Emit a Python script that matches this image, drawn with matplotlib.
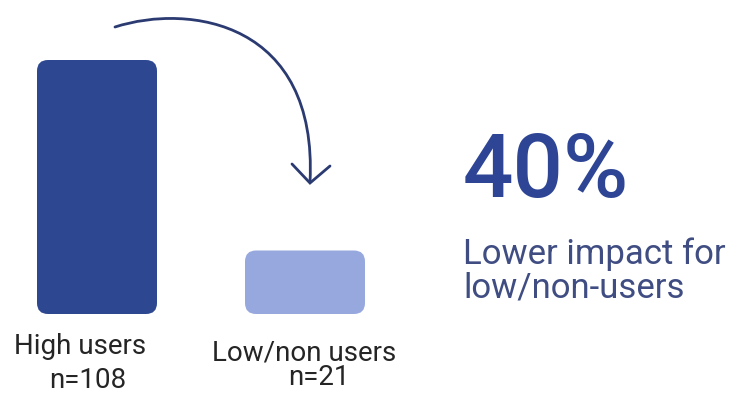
import matplotlib
matplotlib.use("Agg")
import matplotlib.pyplot as plt
from matplotlib.patches import FancyBboxPatch, PathPatch
from matplotlib.path import Path

# ---- data ----
categories = ["High users", "Low/non users"]
sample_sizes = ["n=108", "n=21"]
values = [100, 25]
bar_colors = ["#2E4791", "#97A8DE"]
headline = "40%"
subtext_lines = ["Lower impact for", "low/non-users"]

W, H = 738, 393
fig = plt.figure(figsize=(W / 100, H / 100), dpi=100)
fig.patch.set_facecolor("white")

# ---- bar axes (pixel-aligned) ----
px_per_x = 208.0     # pixels per category step
x0_px = 97.0         # center of first bar in px
bottom_px = 314.0
top_px = 60.0
ax = fig.add_axes([0, (H - bottom_px) / H, 1, (bottom_px - top_px) / H])
ax.set_xlim(-x0_px / px_per_x, (W - x0_px) / px_per_x)
ax.set_ylim(0, max(values))
ax.axis("off")
bar_w = 120.0 / px_per_x
bars = ax.bar(range(len(values)), values, width=bar_w, color=bar_colors)
px_per_y = (bottom_px - top_px) / max(values)
radius_px = 11.0
for b, c in zip(bars, bar_colors):
    b.set_visible(False)
    p = FancyBboxPatch((b.get_x(), b.get_y()), b.get_width(), b.get_height(),
                       boxstyle=f"round,pad=0,rounding_size={radius_px / px_per_x}",
                       mutation_aspect=px_per_x / px_per_y,
                       facecolor=c, edgecolor="none")
    ax.add_patch(p)

# ---- overlay axes in pixel coordinates ----
ov = fig.add_axes([0, 0, 1, 1])
ov.set_xlim(0, W)
ov.set_ylim(H, 0)
ov.axis("off")

font = "Roboto"
label_color = "#252525"
ov.text(80, 354, categories[0], fontsize=20, family=font, color=label_color,
        ha="center", va="baseline")
ov.text(88, 388, sample_sizes[0], fontsize=20, family=font, color=label_color,
        ha="center", va="baseline")
ov.text(304, 360, categories[1], fontsize=20, family=font, color=label_color,
        ha="center", va="baseline")
ov.text(319, 385, sample_sizes[1], fontsize=20, family=font, color=label_color,
        ha="center", va="baseline")

ov.text(463, 197, headline, fontsize=64, family=font, fontweight="medium",
        color="#2D4594", ha="left", va="baseline")
for i, line in enumerate(subtext_lines):
    ov.text(463, 264 + 34 * i, line, fontsize=25, family=font, color="#3F4D82",
            ha="left", va="baseline")

# ---- curved arrow ----
arrow_color = "#2B3B72"
verts = [(115, 27), (190, 3), (318, 22), (310, 182)]
codes = [Path.MOVETO, Path.CURVE4, Path.CURVE4, Path.CURVE4]
ov.add_patch(PathPatch(Path(verts, codes), facecolor="none",
                       edgecolor=arrow_color, lw=2.0, capstyle="round"))
ov.plot([292, 310, 330], [164, 183, 166], color=arrow_color, lw=2.0,
        solid_capstyle="round", solid_joinstyle="miter")

fig.savefig("out.png", dpi=100, facecolor="white")
